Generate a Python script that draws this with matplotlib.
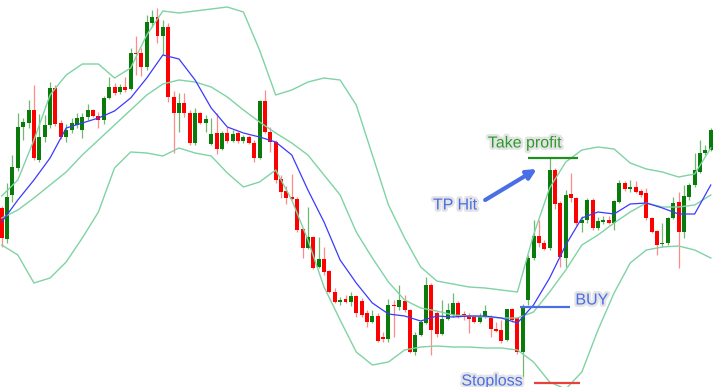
import numpy as np
import matplotlib.pyplot as plt
import matplotlib.patheffects as pe


# candle data (price units), one entry per bar
opens = [192, 161, 205, 232, 273, 277, 290, 240, 263, 275,
         312, 277, 263, 270, 275, 270, 283, 290, 284, 280,
         302, 313, 308, 313, 311, 347, 347, 333, 377, 383,
         364, 373, 303, 287, 297, 287, 257, 287, 277, 256,
         267, 251, 267, 259, 267, 259, 263, 257, 242, 299,
         268, 258, 221, 209, 203, 201, 171, 152, 163, 133,
         141, 129, 108, 98, 101, 98, 104, 99, 87, 78,
         84, 63, 61, 95, 93, 99, 90, 48, 65, 77,
         115, 87, 66, 81, 85, 97, 86, 84, 83, 78,
         83, 83, 71, 70, 60, 91, 82, 48, 100, 142,
         164, 157, 152, 230, 197, 142, 206, 202, 177, 180,
         200, 172, 178, 180, 177, 198, 217, 211, 213, 209,
         207, 182, 169, 156, 157, 182, 198, 168, 203, 215,
         228, 247, 250]
highs = [194, 217, 245, 287, 282, 300, 315, 286, 285, 318,
         315, 280, 276, 282, 287, 287, 296, 291, 288, 304,
         323, 317, 316, 323, 352, 364, 352, 385, 390, 392,
         380, 377, 309, 307, 307, 290, 292, 288, 285, 282,
         287, 269, 273, 270, 269, 265, 265, 260, 300, 310,
         273, 260, 225, 214, 226, 203, 172, 193, 164, 163,
         153, 130, 112, 103, 105, 108, 105, 102, 90, 90,
         87, 68, 101, 100, 115, 105, 91, 68, 80, 123,
         117, 89, 100, 97, 107, 99, 89, 87, 85, 87,
         95, 85, 78, 80, 91, 92, 83, 96, 145, 180,
         180, 160, 242, 232, 199, 210, 227, 203, 184, 202,
         202, 183, 184, 184, 200, 220, 219, 220, 219, 211,
         212, 183, 170, 177, 183, 203, 208, 215, 217, 247,
         260, 255, 272]
lows = [153, 157, 198, 229, 260, 272, 240, 238, 258, 272,
        274, 261, 258, 267, 272, 262, 280, 283, 272, 276,
        301, 305, 306, 308, 310, 325, 324, 330, 373, 357,
        345, 298, 247, 268, 283, 255, 255, 276, 268, 255,
        246, 250, 257, 258, 257, 257, 256, 238, 241, 267,
        248, 217, 202, 196, 200, 168, 142, 151, 131, 132,
        125, 107, 97, 95, 97, 94, 83, 83, 73, 77,
        58, 58, 58, 63, 90, 88, 47, 45, 64, 76,
        45, 63, 65, 80, 83, 82, 80, 67, 77, 77,
        82, 63, 68, 57, 59, 78, 46, 22, 95, 140,
        153, 150, 150, 191, 133, 133, 198, 175, 168, 177,
        170, 170, 176, 176, 170, 197, 209, 208, 207, 203,
        180, 167, 145, 153, 155, 181, 132, 162, 200, 213,
        227, 245, 249]
closes = [162, 203, 233, 273, 278, 290, 242, 263, 275, 312,
          276, 263, 270, 277, 282, 283, 290, 284, 280, 302,
          313, 307, 313, 310, 347, 346, 333, 378, 383, 364,
          373, 303, 287, 297, 287, 257, 287, 277, 281, 266,
          251, 267, 259, 266, 259, 263, 257, 242, 299, 268,
          258, 220, 208, 202, 201, 170, 152, 163, 132, 141,
          128, 108, 98, 100, 98, 104, 87, 85, 78, 84,
          59, 61, 95, 94, 100, 90, 48, 65, 78, 115,
          70, 66, 81, 90, 97, 83, 83, 81, 78, 83,
          89, 71, 69, 59, 91, 80, 48, 94, 142, 164,
          157, 151, 230, 196, 143, 205, 202, 177, 180, 200,
          172, 179, 180, 177, 199, 217, 211, 213, 208, 205,
          182, 168, 155, 157, 182, 197, 168, 204, 215, 230,
          247, 250, 270]

# indicators
ind_step = 3
ma_fast = [178, 200, 220, 242, 272, 277, 282, 289, 302, 322,
           345, 341, 320, 292, 273, 267, 263, 258, 245, 210,
           178, 140, 117, 97, 86, 84, 79, 84, 83, 84,
           84, 82, 77, 95, 122, 155, 182, 188, 186, 196,
           197, 192, 186, 186, 215]
bb_upper = [204, 220, 260, 305, 325, 336, 336, 322, 332, 365,
            389, 387, 389, 391, 393, 388, 350, 305, 310, 318,
            322, 320, 295, 245, 195, 162, 133, 119, 116, 113,
            112, 110, 108, 165, 212, 238, 250, 253, 251, 237,
            231, 228, 223, 226, 252]
bb_mid = [182, 190, 202, 215, 228, 245, 260, 275, 290, 305,
          316, 320, 318, 313, 303, 290, 278, 267, 257, 245,
          225, 205, 168, 142, 118, 100, 92, 89, 85, 84,
          83, 82, 82, 88, 108, 130, 155, 165, 177, 188,
          197, 193, 193, 195, 205]
bb_lower = [155, 145, 117, 122, 138, 162, 188, 232, 248, 247,
            244, 252, 247, 244, 227, 213, 218, 230, 200, 160,
            113, 80, 48, 35, 38, 50, 53, 54, 53, 53,
            52, 52, 50, 38, 18, 11, 28, 70, 107, 137,
            150, 153, 154, 150, 142]

# trade levels
tp_level = 242
buy_level = 93
sl_level = 17


def plot_chart():
    fig = plt.figure(figsize=(7.14, 3.87), dpi=100)
    ax = fig.add_axes([0, 0, 1, 1])
    ax.axis('off')

    o, h, l, c = map(np.array, (opens, highs, lows, closes))
    x = np.arange(len(o))
    up = c >= o
    body_col = np.where(up, '#0a7a0a', '#ff0000')
    wick_col = np.where(up, '#72b872', '#ff8a8a')

    ## candles
    ax.vlines(x, l, h, colors=wick_col, lw=0.9, zorder=1)
    bottom = np.minimum(o, c)
    height = np.maximum(np.abs(c - o), 1.3)
    ax.bar(x, height, 0.74, bottom=bottom, color=body_col, lw=0, zorder=2)

    ## bands + fast ma
    xi = np.arange(len(ma_fast)) * ind_step
    band = '#7fd3a4'
    ax.plot(xi, bb_upper, color=band, lw=1, zorder=3)
    ax.plot(xi, bb_mid, color=band, lw=1, zorder=3)
    ax.plot(xi, bb_lower, color=band, lw=1, zorder=3)
    ax.plot(xi, ma_fast, color='#3a3aff', lw=0.9, zorder=4)

    # trade markup
    blue = '#4a6ee6'
    glow = [pe.withStroke(linewidth=3.5, foreground='#e4e4e4')]
    font = dict(family='Liberation Sans', fontsize=11.5, va='center', path_effects=glow, zorder=6)

    ax.hlines(tp_level, 98, 107.2, color='#1f8f1f', lw=1.6, zorder=5)
    ax.hlines(buy_level, 96.5, 105.8, color=blue, lw=1.6, zorder=5)
    ax.hlines(sl_level, 99, 107.7, color='#e8403a', lw=1.6, zorder=5)

    ax.text(97.4, 257, 'Take profit', color='#2e9b2e', ha='center', **font)
    ax.text(84.4, 195, 'TP Hit', color=blue, ha='center', **font)
    ax.text(106.8, 100, 'BUY', color=blue, ha='left', **font)
    ax.text(91.3, 19, 'Stoploss', color=blue, ha='center', **font)
    ax.annotate('', xy=(99.6, 231), xytext=(90.0, 200),
                arrowprops=dict(arrowstyle='-|>', color=blue, lw=3,
                                mutation_scale=14, shrinkA=0, shrinkB=0),
                zorder=6)

    ax.set_xlim(-0.32, 132.6)
    ax.set_ylim(13, 400)

    fig.savefig('out.png', dpi=100)


if __name__ == '__main__':
    plot_chart()
